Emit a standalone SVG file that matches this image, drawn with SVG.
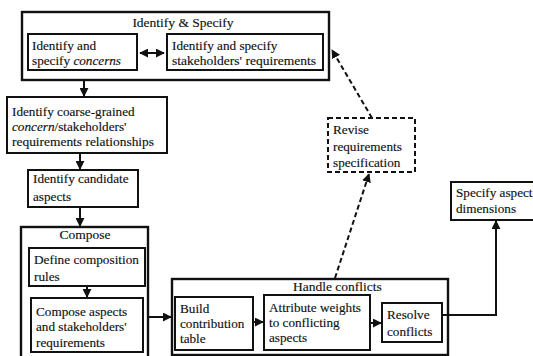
<svg xmlns="http://www.w3.org/2000/svg" width="533" height="356" viewBox="0 0 533 356">
  <style>
    .box { fill: #fff; stroke: #111; stroke-width: 2; }
    .outer { fill: #fff; stroke: #111; stroke-width: 2.4; }
    .dash { fill: none; stroke: #111; stroke-width: 2; stroke-dasharray: 5 3; }
    .t { font-family: "Liberation Serif", "Times New Roman", serif; font-size: 13.2px; fill: #111; stroke: #111; stroke-width: 0.15; }
    .title { font-family: "Liberation Serif", "Times New Roman", serif; font-size: 13.5px; fill: #111; stroke: #111; stroke-width: 0.15; }
    .line { fill: none; stroke: #111; stroke-width: 2; }
  </style>
  <defs>
    <marker id="arrow" viewBox="0 0 10 10" refX="9" refY="5" markerWidth="4.5" markerHeight="4.5" orient="auto-start-reverse">
      <path d="M0,0 L10,5 L0,10 z" fill="#111"/>
    </marker>
  </defs>
  <rect width="533" height="356" fill="#fff"/>

  <g id="identify-specify">
    <rect class="outer" x="22" y="12" width="307" height="68"/>
    <text class="title" x="183" y="27" text-anchor="middle">Identify &amp; Specify</text>
  </g>
  <g id="identify-concerns">
    <rect class="box" x="28" y="34" width="109" height="36"/>
    <text class="t" x="32" y="50">Identify and</text>
    <text class="t" x="32" y="65">specify <tspan font-style="italic">concerns</tspan></text>
  </g>
  <g id="identify-requirements">
    <rect class="box" x="167" y="34" width="156" height="36"/>
    <text class="t" x="172" y="50">Identify and specify</text>
    <text class="t" x="172" y="65" textLength="144" lengthAdjust="spacingAndGlyphs">stakeholders' requirements</text>
  </g>
  <g id="coarse-relationships">
    <rect class="box" x="7" y="97" width="160" height="56"/>
    <text class="t" x="12" y="116">Identify coarse-grained</text>
    <text class="t" x="12" y="131"><tspan font-style="italic">concern</tspan>/stakeholders'</text>
    <text class="t" x="12" y="146" textLength="142" lengthAdjust="spacingAndGlyphs">requirements relationships</text>
  </g>
  <g id="candidate-aspects">
    <rect class="box" x="28" y="170" width="110" height="37"/>
    <text class="t" x="33" y="183">Identify candidate</text>
    <text class="t" x="33" y="201">aspects</text>
  </g>
  <g id="compose">
    <rect class="outer" x="21" y="227" width="127" height="132"/>
    <text class="title" x="85" y="239" text-anchor="middle">Compose</text>
  </g>
  <g id="composition-rules">
    <rect class="box" x="29" y="248" width="116" height="38"/>
    <text class="t" x="34" y="264" textLength="105" lengthAdjust="spacingAndGlyphs">Define composition</text>
    <text class="t" x="34" y="281">rules</text>
  </g>
  <g id="compose-aspects">
    <rect class="box" x="31" y="298" width="112" height="54"/>
    <text class="t" x="36" y="316">Compose aspects</text>
    <text class="t" x="36" y="331">and stakeholders'</text>
    <text class="t" x="36" y="347">requirements</text>
  </g>
  <g id="handle-conflicts">
    <rect class="outer" x="172" y="279" width="276" height="76"/>
    <text class="title" x="293" y="291">Handle conflicts</text>
  </g>
  <g id="contribution-table">
    <rect class="box" x="175" y="297" width="78" height="53"/>
    <text class="t" x="180" y="313">Build</text>
    <text class="t" x="180" y="328">contribution</text>
    <text class="t" x="180" y="343">table</text>
  </g>
  <g id="attribute-weights">
    <rect class="box" x="264" y="295" width="106" height="55"/>
    <text class="t" x="269" y="312">Attribute weights</text>
    <text class="t" x="269" y="327">to conflicting</text>
    <text class="t" x="269" y="342">aspects</text>
  </g>
  <g id="resolve-conflicts">
    <rect class="box" x="382" y="303" width="60" height="39"/>
    <text class="t" x="387" y="319">Resolve</text>
    <text class="t" x="387" y="336">conflicts</text>
  </g>
  <g id="revise-specification">
    <rect class="dash" x="328" y="118" width="87" height="54"/>
    <text class="t" x="333" y="134">Revise</text>
    <text class="t" x="333" y="151">requirements</text>
    <text class="t" x="333" y="167">specification</text>
  </g>
  <g id="aspect-dimensions">
    <rect class="box" x="451" y="182" width="90" height="38"/>
    <text class="t" x="456" y="197">Specify aspect</text>
    <text class="t" x="456" y="213">dimensions</text>
  </g>

  <g id="connectors">
    <line class="line" x1="140" y1="53" x2="164" y2="53" marker-start="url(#arrow)" marker-end="url(#arrow)"/>
    <line class="line" x1="84" y1="81" x2="84" y2="96" marker-end="url(#arrow)"/>
    <line class="line" x1="80" y1="154" x2="80" y2="169" marker-end="url(#arrow)"/>
    <line class="line" x1="80" y1="208" x2="80" y2="226" marker-end="url(#arrow)"/>
    <line class="line" x1="87" y1="287" x2="87" y2="297" marker-end="url(#arrow)"/>
    <line class="line" x1="149" y1="317" x2="171" y2="317" marker-end="url(#arrow)"/>
    <line class="line" x1="254" y1="322" x2="263" y2="322" marker-end="url(#arrow)"/>
    <line class="line" x1="371" y1="323" x2="381" y2="323" marker-end="url(#arrow)"/>
    <polyline class="line" points="443,315 496,315 496,221" marker-end="url(#arrow)"/>
    <line class="dash" x1="335" y1="278" x2="369" y2="174" marker-end="url(#arrow)"/>
    <line class="dash" x1="372" y1="118" x2="332" y2="50" marker-end="url(#arrow)"/>
  </g>
</svg>
